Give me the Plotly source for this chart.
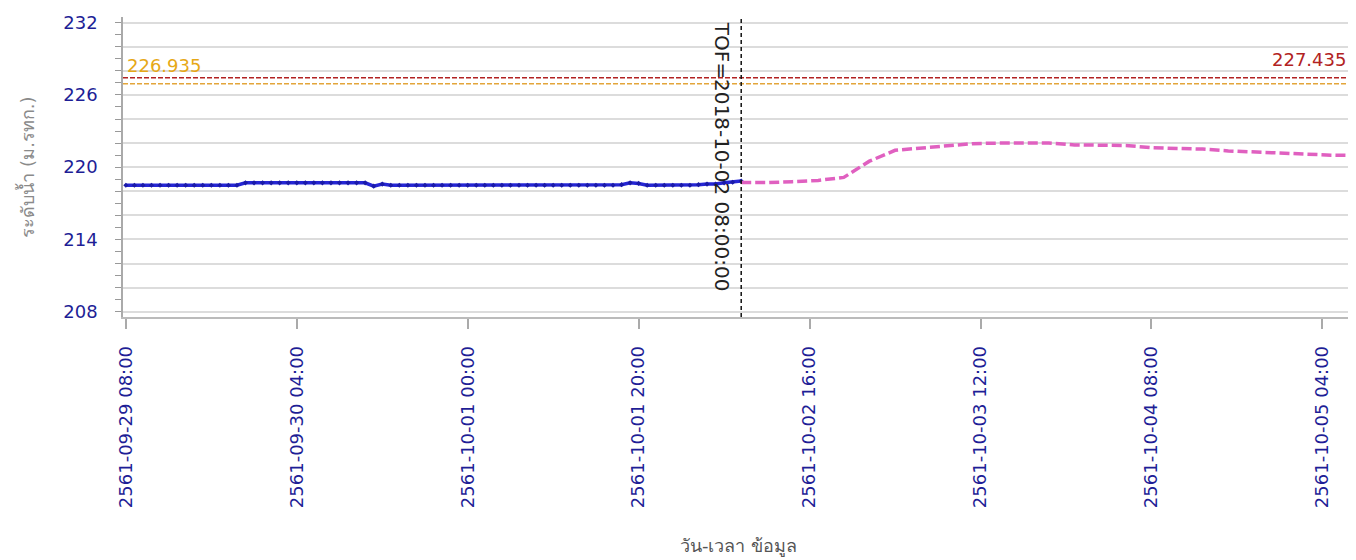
import pandas as pd
import plotly.graph_objects as go

# ---------------- data ----------------
obs_start = "2018-09-29 08:00"
obs_values = [
    218.5, 218.5, 218.5, 218.5, 218.5, 218.5, 218.5, 218.5, 218.5, 218.5,
    218.5, 218.5, 218.5, 218.5,
    218.7, 218.7, 218.7, 218.7, 218.7, 218.7, 218.7, 218.7, 218.7, 218.7,
    218.7, 218.7, 218.7, 218.7, 218.7,
    218.42, 218.6,
    218.5, 218.5, 218.5, 218.5, 218.5, 218.5, 218.5, 218.5, 218.5, 218.5,
    218.5, 218.5, 218.5, 218.5, 218.5, 218.5, 218.5, 218.5, 218.5, 218.5,
    218.5, 218.5, 218.5, 218.5, 218.5, 218.5, 218.5,
    218.55, 218.7, 218.65, 218.5,
    218.5, 218.5, 218.5, 218.5, 218.5,
    218.55, 218.6, 218.6, 218.7, 218.75, 218.85,
]
obs_times = pd.date_range(obs_start, periods=len(obs_values), freq="h")

fc_times = [
    "2018-10-02 08:00", "2018-10-02 11:00", "2018-10-02 14:00", "2018-10-02 17:00",
    "2018-10-02 20:00", "2018-10-02 23:00", "2018-10-03 02:00", "2018-10-03 05:00",
    "2018-10-03 08:00", "2018-10-03 11:00", "2018-10-03 14:00", "2018-10-03 17:00",
    "2018-10-03 20:00", "2018-10-03 23:00", "2018-10-04 02:00", "2018-10-04 05:00",
    "2018-10-04 08:00", "2018-10-04 11:00", "2018-10-04 14:00", "2018-10-04 17:00",
    "2018-10-04 20:00", "2018-10-04 23:00", "2018-10-05 02:00", "2018-10-05 05:00",
    "2018-10-05 07:00",
]
fc_values = [
    218.72, 218.72, 218.8, 218.9,
    219.15, 220.5, 221.4, 221.6,
    221.75, 221.95, 222.0, 222.0,
    222.0, 221.85, 221.85, 221.8,
    221.62, 221.55, 221.5, 221.35,
    221.25, 221.18, 221.1, 221.0,
    220.98,
]

level_red = 227.435
level_orange = 226.935
tof_time = "2018-10-02 08:00"
tof_label = "TOF=2018-10-02 08:00:00"

x_tick_vals = ["2018-09-29 08:00", "2018-09-30 04:00", "2018-10-01 00:00",
               "2018-10-01 20:00", "2018-10-02 16:00", "2018-10-03 12:00",
               "2018-10-04 08:00", "2018-10-05 04:00"]
x_tick_text = ["2561-09-29 08:00", "2561-09-30 04:00", "2561-10-01 00:00",
               "2561-10-01 20:00", "2561-10-02 16:00", "2561-10-03 12:00",
               "2561-10-04 08:00", "2561-10-05 04:00"]
y_tick_vals = [208, 210, 212, 214, 216, 218, 220, 222, 224, 226, 228, 230, 232]
y_tick_text = ["208", "", "", "214", "", "", "220", "", "", "226", "", "", "232"]

x_range = ["2018-09-29 07:40", "2018-10-05 07:42"]
y_range = [207.56, 232.47]

y_title = "ระดับน้ำ (ม.รทก.)"
x_title = "วัน-เวลา ข้อมูล"

# ---------------- figure ----------------
FONT = "DejaVu Sans, Noto Sans, sans-serif"
TICK_COLOR = "#1e1e96"

fig = go.Figure()

fig.add_hline(y=level_red, line=dict(color="#b22222", width=1.5, dash="5px,2px"))
fig.add_hline(y=level_orange, line=dict(color="#e3a53a", width=1.5, dash="5px,2px"))

fig.add_trace(go.Scatter(
    x=obs_times, y=obs_values, mode="lines+markers",
    line=dict(color="#2626d4", width=3.5),
    marker=dict(symbol="diamond", size=4, color="#1a1aa8"),
    showlegend=False, hoverinfo="x+y",
))
fig.add_trace(go.Scatter(
    x=fc_times, y=fc_values, mode="lines",
    line=dict(color="#e060c0", width=3.5, dash="10px,4px"),
    showlegend=False, hoverinfo="x+y",
))

fig.add_vline(x=tof_time, line=dict(color="#111111", width=1.5, dash="4px,3px"))

fig.add_annotation(
    x=tof_time, y=1, xref="x", yref="paper", text=tof_label, textangle=90,
    showarrow=False, xanchor="right", yanchor="top", xshift=-5, yshift=-3,
    font=dict(family=FONT, size=20, color="#222222"),
)
fig.add_annotation(
    x=0, y=level_orange, xref="paper", yref="y", text=f"{level_orange:.3f}",
    showarrow=False, xanchor="left", yanchor="bottom", xshift=2, yshift=6,
    font=dict(family=FONT, size=18, color="#e6a817"),
)
fig.add_annotation(
    x=1, y=level_red, xref="paper", yref="y", text=f"{level_red:.3f}",
    showarrow=False, xanchor="right", yanchor="bottom", xshift=-6, yshift=6,
    font=dict(family=FONT, size=18, color="#b22222"),
)

fig.update_layout(
    width=1348, height=552,
    margin=dict(l=115, r=2, t=9, b=243),
    paper_bgcolor="white", plot_bgcolor="white",
    font=dict(family=FONT, size=18, color=TICK_COLOR),
    showlegend=False,
)

fig.update_xaxes(
    type="date", range=x_range,
    tickvals=x_tick_vals, ticktext=x_tick_text, tickangle=-90,
    ticks="outside", ticklen=10, tickcolor="#aaaaaa", tickwidth=1.5,
    ticklabelstandoff=10,
    showgrid=False, zeroline=False,
    showline=True, linecolor="#bbbbbb", linewidth=1.5,
    tickfont=dict(family=FONT, size=18, color=TICK_COLOR),
    title=dict(text=x_title, font=dict(family=FONT, size=18, color="#555555"), standoff=32),
)
fig.update_yaxes(
    range=y_range,
    tickvals=y_tick_vals, ticktext=y_tick_text,
    ticks="outside", ticklen=6, tickcolor="#999999", tickwidth=1,
    ticklabelstandoff=14,
    minor=dict(dtick=1, tick0=208, ticks="outside", ticklen=6, tickcolor="#999999", showgrid=False),
    showgrid=True, gridcolor="#dcdcdc", gridwidth=1.5,
    zeroline=False,
    showline=True, linecolor="#aaaaaa", linewidth=1.5,
    tickfont=dict(family=FONT, size=18, color=TICK_COLOR),
    title=dict(text=y_title, font=dict(family=FONT, size=18, color="#8a8a8a"), standoff=24),
)

fig.write_html("out.html")
